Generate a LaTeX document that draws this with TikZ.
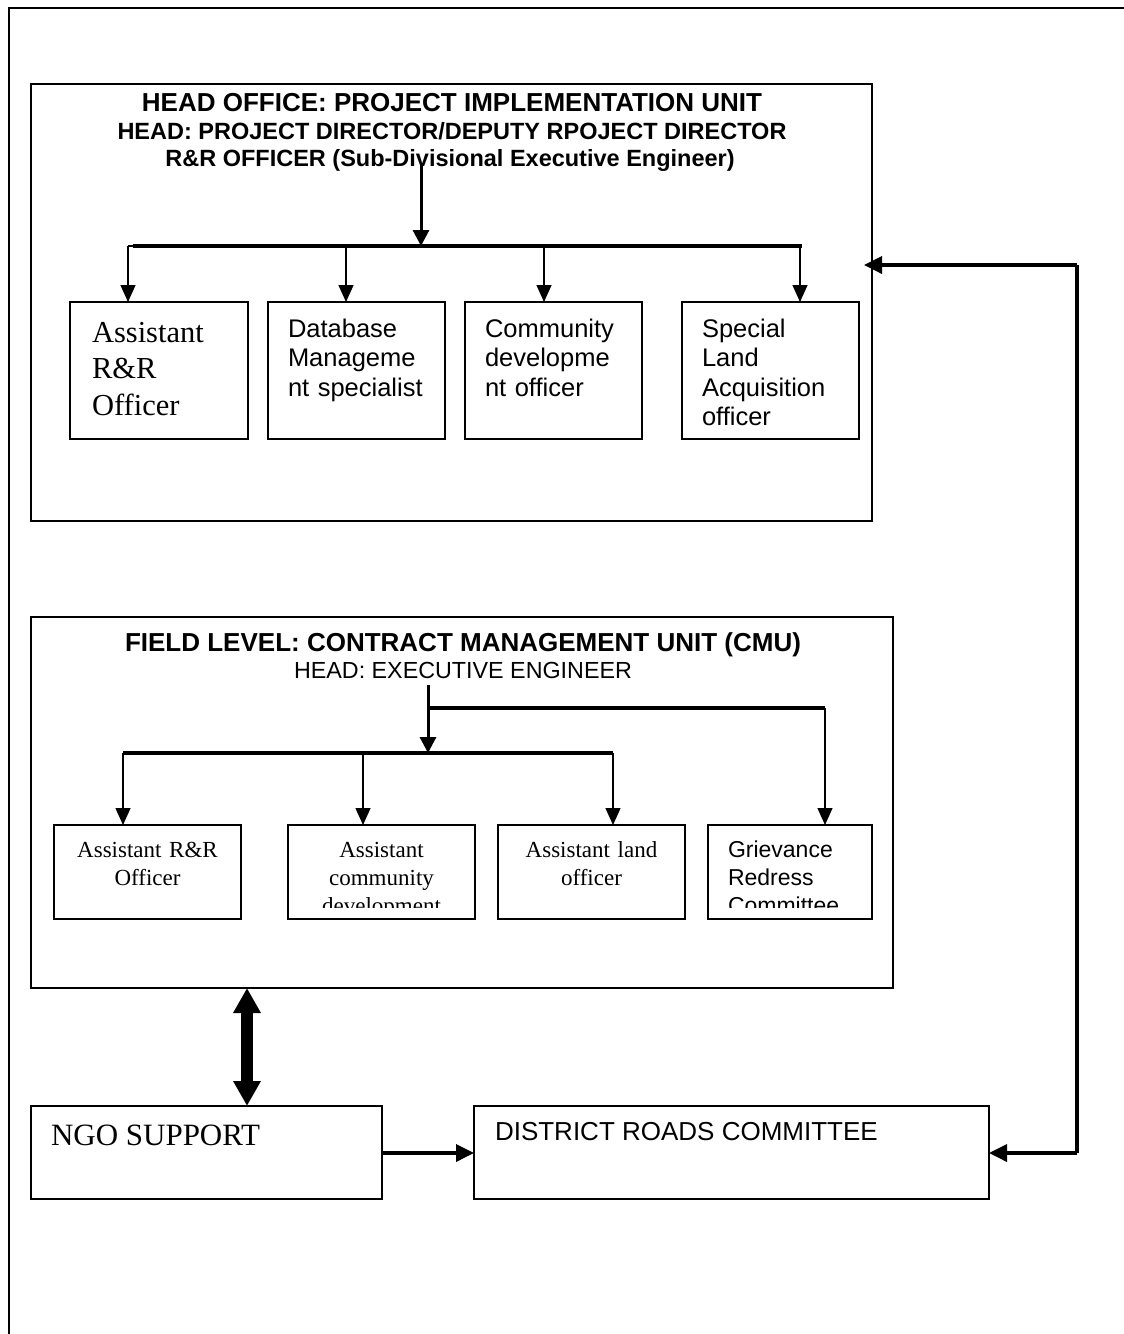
\documentclass[tikz,border=0pt]{standalone}
\usepackage{fontspec}
\setmainfont{Liberation Serif}
\newfontfamily\arial{Liberation Sans}
\usetikzlibrary{arrows.meta}
\begin{document}
\begin{tikzpicture}[x=1pt,y=-1pt,
  box/.style={draw, line width=1.5pt, anchor=north west, inner sep=0pt, outer sep=0pt},
  framestyle/.style={line width=1.6pt},
  thinarrow/.style={line width=1.3pt, -{Triangle[length=17pt,width=15pt]}},
  thinline/.style={line width=1.3pt},
  barline/.style={line width=4pt},
  thickarrow/.style={line width=3pt, -{Triangle[length=16pt,width=16pt]}},
  sidearrow/.style={line width=3.5pt, -{Triangle[length=18pt,width=17pt]}},
  dblarrow/.style={line width=12pt, {Triangle[length=25pt,width=26pt]}-{Triangle[length=25pt,width=26pt]}},
  txt/.style={inner sep=0pt, outer sep=0pt},
  hotitle/.style={txt, anchor=base, font=\arial\bfseries\fontsize{26}{28}\selectfont},
  hosub/.style={txt, anchor=base, font=\arial\bfseries\fontsize{23.5}{28}\selectfont},
  serifbig/.style={txt, anchor=base west, align=left, text width=150pt, font=\fontsize{30.5}{36.5}\selectfont},
  sansmid/.style={txt, anchor=base west, align=left, text width=160pt, font=\arial\fontsize{25.5}{29.5}\selectfont},
  serifsmall/.style={txt, anchor=base, align=center, text width=180pt, font=\fontsize{23}{28}\selectfont},
  sanssmall/.style={txt, anchor=base west, align=left, text width=150pt, font=\arial\fontsize{23}{28}\selectfont}
]
\useasboundingbox (0,0) rectangle (1124,1334);
% outer frame
\draw[framestyle] (9,1334) -- (9,8) -- (1124,8);

% ---------------- HEAD OFFICE ----------------
\node[box, minimum width=841pt, minimum height=437pt] (ho) at (31,84) {};
\node[hotitle] (hot1) at (452,111) {HEAD OFFICE: PROJECT IMPLEMENTATION UNIT};
\node[hosub] (hot2) at (452,139) {HEAD: PROJECT DIRECTOR/DEPUTY RPOJECT DIRECTOR};
\node[hosub] (hot3) at (450,166) {R\&R OFFICER (Sub-Divisional Executive Engineer)};

\node[box, minimum width=178pt, minimum height=137pt] (ha1) at (70,302) {};
\node[box, minimum width=177pt, minimum height=137pt] (ha2) at (268,302) {};
\node[box, minimum width=177pt, minimum height=137pt] (ha3) at (465,302) {};
\node[box, minimum width=177pt, minimum height=137pt] (ha4) at (682,302) {};

\node[serifbig] (hx1) at (92,342) {Assistant\\R\&R\\Officer};
\node[sansmid] (hx2) at (288,337) {Database\\Manageme\\nt specialist};
\node[sansmid] (hx3) at (485,337) {Community\\developme\\nt officer};
\node[sansmid] (hx4) at (702,337) {Special\\Land\\Acquisition\\officer};

\coordinate (hoSrc) at (421,163);
\coordinate (hoMid) at (421,246);
\coordinate (hoBarL) at (133,246);
\coordinate (hoBarR) at (802,246);
\coordinate (hd1) at (128,246);
\coordinate (hd2) at (346,246);
\coordinate (hd3) at (544,246);
\coordinate (hd4) at (800,246);
\draw[barline] (hoBarL) -- (hoBarR);
\draw[thickarrow] (hoSrc) -- (hoMid);
\draw[thinline] (hd1) -- (hoBarL);
\draw[thinarrow] (hd1) -- (hd1 |- ha1.north);
\draw[thinarrow] (hd2) -- (hd2 |- ha2.north);
\draw[thinarrow] (hd3) -- (hd3 |- ha3.north);
\draw[thinarrow] (hd4) -- (hd4 |- ha4.north);

% ---------------- FIELD LEVEL ----------------
\node[box, minimum width=862pt, minimum height=371pt] (fl) at (31,617) {};
\node[hotitle] (flt1) at (463,651) {FIELD LEVEL: CONTRACT MANAGEMENT UNIT (CMU)};
\node[txt, anchor=base, font=\arial\fontsize{23.3}{28}\selectfont] (flt2) at (463,678) {HEAD: EXECUTIVE ENGINEER};

\node[box, minimum width=187pt, minimum height=94pt] (fa1) at (54,825) {};
\node[box, minimum width=187pt, minimum height=94pt] (fa2) at (288,825) {};
\node[box, minimum width=187pt, minimum height=94pt] (fa3) at (498,825) {};
\node[box, minimum width=164pt, minimum height=94pt] (fa4) at (708,825) {};

\node[serifsmall] (fx1) at (147.5,857) {Assistant R\&R\\Officer};
\begin{scope}
  \clip (288,825) rectangle (475,907);
  \node[serifsmall] (fx2) at (381.5,857) {Assistant\\community\\development};
\end{scope}
\node[serifsmall] (fx3) at (591.5,857) {Assistant land\\officer};
\begin{scope}
  \clip (708,825) rectangle (872,907);
  \node[sanssmall] (fx4) at (728,857) {Grievance\\Redress\\Committee};
\end{scope}

\coordinate (flSrc) at (428,685);
\coordinate (flMid) at (428,753);
\coordinate (flJoin) at (428,708);
\coordinate (flRight) at (825,708);
\coordinate (flBarL) at (123,753);
\coordinate (flBarR) at (613,753);
\coordinate (fd2) at (363,753);
\draw[barline] (flBarL) -- (flBarR);
\draw[barline] (flJoin) -- (flRight);
\draw[thickarrow] (flSrc) -- (flMid);
\draw[thinarrow] (flRight) -- (flRight |- fa4.north);
\draw[thinarrow] (flBarL) -- (flBarL |- fa1.north);
\draw[thinarrow] (fd2) -- (fd2 |- fa2.north);
\draw[thinarrow] (flBarR) -- (flBarR |- fa3.north);

% ---------------- BOTTOM ----------------
\node[box, minimum width=351pt, minimum height=93pt] (ngo) at (31,1106) {};
\node[txt, anchor=base west, font=\fontsize{31}{36}\selectfont] (ngot) at (51,1145) {NGO SUPPORT};
\node[box, minimum width=515pt, minimum height=93pt] (drc) at (474,1106) {};
\node[txt, anchor=base west, font=\arial\fontsize{26}{30}\selectfont] (drct) at (495,1140) {DISTRICT ROADS COMMITTEE};

\coordinate (dblx) at (247,0);
\draw[dblarrow] (dblx |- fl.south) -- (dblx |- ngo.north);
\coordinate (ngoY) at (0,1153);
\draw[sidearrow] (ngo.east |- ngoY) -- (drc.west |- ngoY);

\coordinate (sideTop) at (1077,265);
\coordinate (sideBot) at (1077,1153);
\draw[sidearrow, shorten >=-8pt] (sideTop) -- (ho.east |- sideTop);
\draw[line width=3.5pt] (sideTop) -- (sideBot);
\draw[sidearrow] (sideBot) -- (drc.east |- sideBot);
\end{tikzpicture}
\end{document}
